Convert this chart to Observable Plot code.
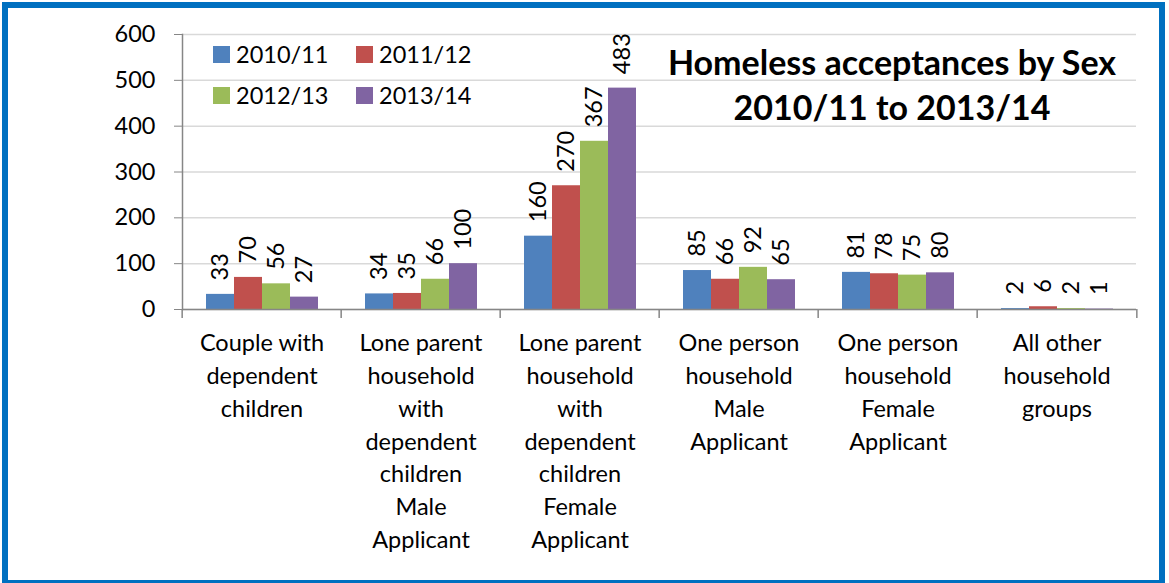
<!DOCTYPE html>
<html>
<head>
<meta charset="utf-8">
<script src="https://cdn.jsdelivr.net/npm/d3@7"></script>
<script src="https://cdn.jsdelivr.net/npm/@observablehq/plot@0.6"></script>
<style>
  html, body { margin: 0; padding: 0; background: #fff; overflow: hidden; }
  #wrap { position: relative; width: 1169px; height: 583px; font-family: Lato, "Open Sans", sans-serif; }
  #border { position: absolute; left: 2px; top: 2px; width: 1163px; height: 584px; box-sizing: border-box; border: 6px solid #0070C0; pointer-events: none; }
  #chart { position: absolute; left: 0; top: 0; }
  #title { position: absolute; left: 640px; width: 504px; top: 39px; text-align: center; font-weight: bold; font-size: 34px; line-height: 45px; color: #000; }
  #legend { position: absolute; left: 213px; top: 40px; font-size: 23.5px; color: #000; }
  .item { position: absolute; white-space: nowrap; display: flex; align-items: center; }
  .sw { width: 17px; height: 17px; margin-right: 6px; }
</style>
</head>
<body>
<div id="wrap">
  <div id="chart"></div>
  <div id="legend"></div>
  <div id="title"></div>
  <div id="border"></div>
</div>
<script>
const titleLines = ["Homeless acceptances by Sex", "2010/11 to 2013/14"];
const categories = [
  "Couple with dependent children",
  "Lone parent household with dependent children Male Applicant",
  "Lone parent household with dependent children Female Applicant",
  "One person household Male Applicant",
  "One person household Female Applicant",
  "All other household groups"
];
const categoryLabels = [
  "Couple with\ndependent\nchildren",
  "Lone parent\nhousehold\nwith\ndependent\nchildren\nMale\nApplicant",
  "Lone parent\nhousehold\nwith\ndependent\nchildren\nFemale\nApplicant",
  "One person\nhousehold\nMale\nApplicant",
  "One person\nhousehold\nFemale\nApplicant",
  "All other\nhousehold\ngroups"
];
const years = ["2010/11", "2011/12", "2012/13", "2013/14"];
const values2010 = [33, 34, 160, 85, 81, 2];
const values2011 = [70, 35, 270, 66, 78, 6];
const values2012 = [56, 66, 367, 92, 75, 2];
const values2013 = [27, 100, 483, 65, 80, 1];
const yTicks = [0, 100, 200, 300, 400, 500, 600];
const colors = ["#4F81BD", "#C0504D", "#9BBB59", "#8064A2"];

const series = [values2010, values2011, values2012, values2013];
const data = categories.flatMap((c, i) => years.map((y, j) => ({category: c, year: y, value: series[j][i]})));
const labelOf = new Map(categories.map((c, i) => [c, categoryLabels[i]]));

const W = 1169, H = 583;
const mL = 180, mR = 31, mT = 34, mB = 274;
const step = (W - mL - mR) / categories.length;

const chart = Plot.plot({
  width: W, height: H,
  marginLeft: mL, marginRight: mR, marginTop: mT, marginBottom: mB,
  style: {fontFamily: "Lato, 'Open Sans', sans-serif", fontSize: "23px", color: "#000", background: "transparent", overflow: "visible"},
  fx: {domain: categories, padding: 0, label: null},
  x: {domain: years, paddingInner: 0, paddingOuter: 0.78, axis: null},
  y: {domain: [0, 600], label: null},
  color: {domain: years, range: colors},
  marks: [
    Plot.gridY(yTicks, {stroke: "#d9d9d9", strokeOpacity: 1, strokeWidth: 1.5}),
    Plot.barY(data, {fx: "category", x: "year", y: "value", fill: "year"}),
    Plot.text(data, {fx: "category", x: "year", y: "value", text: d => String(d.value), rotate: -90, textAnchor: "start", dy: -14, fill: "#000", fontSize: 23.5}),
    Plot.ruleY([0], {stroke: "#868686", strokeWidth: 1.5}),
    Plot.frame({anchor: "left", facetAnchor: "left", stroke: "#868686", strokeWidth: 1.5}),
    Plot.axisY({ticks: yTicks, tickSize: 8, tickPadding: 19, stroke: "#868686", fill: "#000", label: null, fontSize: 23.5}),
    Plot.axisFx({anchor: "bottom", tickSize: 0, tickPadding: 18, tickFormat: d => labelOf.get(d), lineHeight: 1.4, fill: "#000", label: null, fontSize: 23.5}),
    Plot.axisFx({anchor: "bottom", tickSize: 9, tickFormat: () => "", dx: -step / 2, stroke: "#868686", strokeWidth: 1.5, label: null}),
    Plot.axisFx({anchor: "bottom", ticks: [categories[categories.length - 1]], tickSize: 9, tickFormat: () => "", dx: step / 2, stroke: "#868686", strokeWidth: 1.5, label: null})
  ]
});
document.getElementById("chart").appendChild(chart);

// legend
const legend = document.getElementById("legend");
const pos = [[0, 0], [143, 0], [0, 41], [143, 41]];
years.forEach((y, i) => {
  const it = document.createElement("div");
  it.className = "item";
  it.style.left = pos[i][0] + "px";
  it.style.top = pos[i][1] + "px";
  const sw = document.createElement("span");
  sw.className = "sw";
  sw.style.background = colors[i];
  const t = document.createElement("span");
  t.textContent = y;
  it.appendChild(sw); it.appendChild(t);
  legend.appendChild(it);
});
// title
const title = document.getElementById("title");
titleLines.forEach(l => { const d = document.createElement("div"); d.textContent = l; title.appendChild(d); });
</script>
</body>
</html>
